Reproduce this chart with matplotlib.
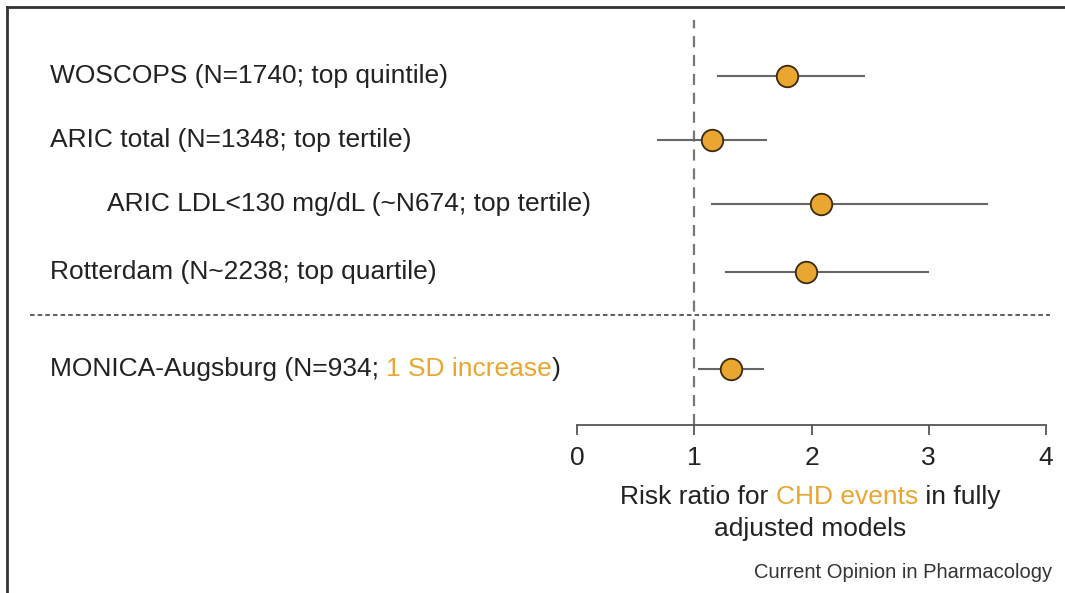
import matplotlib.pyplot as plt
from matplotlib.lines import Line2D
from matplotlib import transforms

plt.rcParams['font.family'] = ['Liberation Sans', 'DejaVu Sans']

# Study labels and risk ratios (point estimate, lower CI, upper CI)
studies = ['WOSCOPS (N=1740; top quintile)',
           'ARIC total (N=1348; top tertile)',
           'ARIC LDL<130 mg/dL (~N674; top tertile)',
           'Rotterdam (N~2238; top quartile)',
           'MONICA-Augsburg (N=934; ']
rr = [1.79, 1.15, 2.08, 1.95, 1.31]
ci_low = [1.20, 0.69, 1.15, 1.27, 1.04]
ci_high = [2.45, 1.61, 3.50, 2.99, 1.59]
xticks = [0, 1, 2, 3, 4]

# row layout (vertical slots) and label indents
y_pos = [0, 1, 2, 3.06, 4.58]
indent = [50, 50, 107, 50, 50]

orange = '#E9A630'
W, H = 1065, 593
fs = 19

fig = plt.figure(figsize=(W / 100, H / 100), dpi=100)
ax = fig.add_axes([577 / W, 1 - 425 / H, 469 / W, 405 / H])
ax.set_xlim(0, 4)
ax.set_ylim(5.45, -0.875)

# CI lines and point estimates
for i in range(len(rr)):
    ax.plot([ci_low[i], ci_high[i]], [y_pos[i], y_pos[i]], color='#666666', lw=1.5, zorder=2)
ax.plot(rr, y_pos, 'o', ms=15.5, mfc=orange, mec='#3a2a10', mew=1.3, zorder=3)

# reference line at RR = 1
ax.axvline(1, color='#777777', lw=1.6, ls=(0, (5, 3.5)), zorder=1)

# axis styling
for s in ['top', 'right', 'left']:
    ax.spines[s].set_visible(False)
ax.spines['bottom'].set_color('#555555')
ax.spines['bottom'].set_linewidth(1.3)
ax.set_yticks([])
ax.set_xticks(xticks)
ax.tick_params(axis='x', direction='out', length=7, width=1.3, color='#555555',
               labelsize=fs, labelcolor='#222222', pad=8)

# study labels: x in figure fraction, y in data rows
trans = transforms.blended_transform_factory(fig.transFigure, ax.transData)
for i, name in enumerate(studies):
    t = ax.text(indent[i] / W, y_pos[i], name, transform=trans, fontsize=fs,
                color='#222222', va='center', ha='left', clip_on=False)
    if i == len(studies) - 1:
        t2 = ax.annotate('1 SD increase', xy=(1, 0), xycoords=t, fontsize=fs,
                         color=orange, va='bottom', ha='left')
        ax.annotate(')', xy=(1, 0), xycoords=t2, fontsize=fs,
                    color='#222222', va='bottom', ha='left')

# separator between quantile and SD-based studies
fig.add_artist(Line2D([30 / W, 1050 / W], [1 - 315 / H] * 2, color='#333333',
                      lw=1.1, ls=(0, (3, 2))))

# x-axis title with coloured part
a1 = fig.text(620 / W, 1 - 497 / H, 'Risk ratio for ', fontsize=fs, color='#222222', va='center')
a2 = ax.annotate('CHD events', xy=(1, 0), xycoords=a1, fontsize=fs, color=orange,
                 va='bottom', ha='left')
ax.annotate(' in fully', xy=(1, 0), xycoords=a2, fontsize=fs, color='#222222',
            va='bottom', ha='left')
fig.text(810 / W, 1 - 529 / H, 'adjusted models', fontsize=fs, color='#222222',
         va='center', ha='center')

fig.text(1052 / W, 1 - 573 / H, 'Current Opinion in Pharmacology', fontsize=14.5,
         color='#333333', va='center', ha='right')

# frame on top and left edge
fig.add_artist(Line2D([7 / W, 1], [1 - 7 / H] * 2, color='#333333', lw=2))
fig.add_artist(Line2D([7 / W] * 2, [0, 1 - 7 / H], color='#333333', lw=2))

fig.savefig('out.png', dpi=100)
